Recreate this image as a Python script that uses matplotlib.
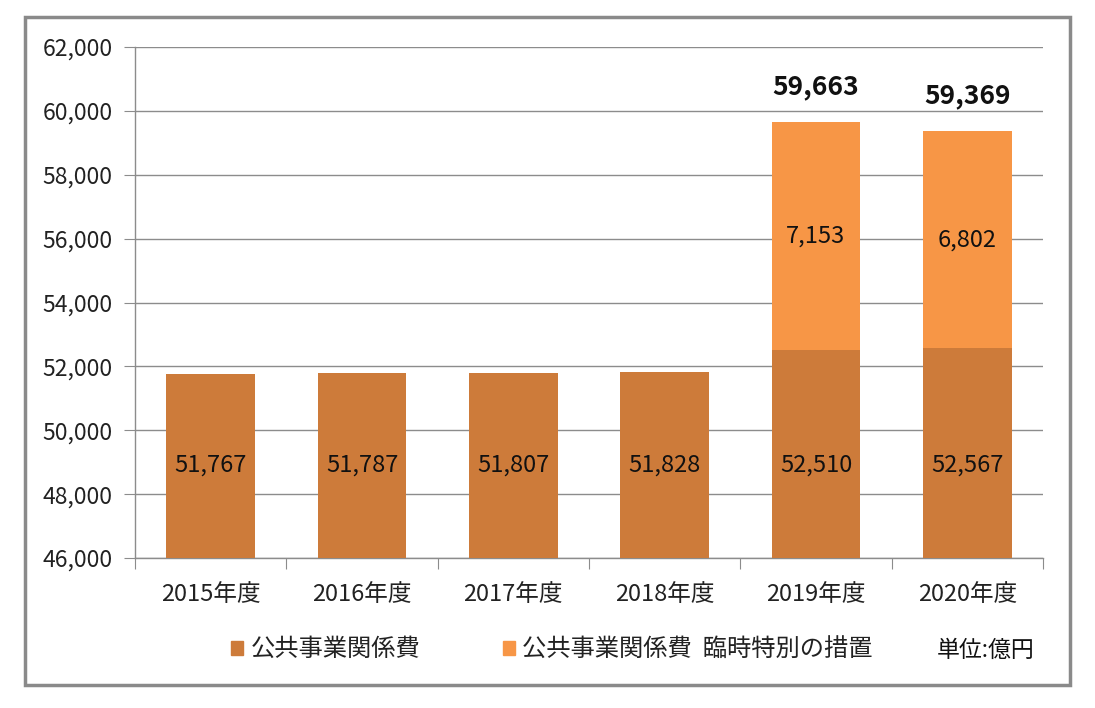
import matplotlib
matplotlib.use('Agg')
import matplotlib.pyplot as plt
from matplotlib.patches import Rectangle, Patch
from matplotlib.ticker import FuncFormatter, MultipleLocator

plt.rcParams['font.family'] = ['Noto Sans CJK JP', 'DejaVu Sans']

# データ
years = ['2015年度', '2016年度', '2017年度', '2018年度', '2019年度', '2020年度']
base = [51767, 51787, 51807, 51828, 52510, 52567]
special = [0, 0, 0, 0, 7153, 6802]
totals = [None, None, None, None, 59663, 59369]

c_base = '#CD7B3A'
c_special = '#F79646'
grid_c = '#8C8C8C'

fig = plt.figure(figsize=(10.95, 7.08), dpi=100)
ax = fig.add_axes([135 / 1095, 1 - 558 / 708, 908 / 1095, 511 / 708])

x = list(range(len(years)))
w = 0.585
ax.bar(x, base, width=w, color=c_base, zorder=3)
ax.bar(x, special, width=w, bottom=base, color=c_special, zorder=3)

ax.set_ylim(46000, 62000)
ax.set_xlim(-0.5, len(years) - 0.5)
ax.yaxis.set_major_locator(MultipleLocator(2000))
ax.yaxis.set_major_formatter(FuncFormatter(lambda v, p: f'{int(v):,}'))
ax.grid(axis='y', color=grid_c, linewidth=1, zorder=0)

# x軸の目盛りはカテゴリの境界に
ax.set_xticks([i - 0.5 for i in range(len(years) + 1)])
ax.set_xticklabels([])
ax.set_xticks(x, minor=True)
ax.set_xticklabels(years, minor=True, fontsize=17, color='#222222')
ax.tick_params(axis='x', which='minor', length=0, pad=18)
ax.tick_params(axis='x', which='major', length=8, color=grid_c, direction='out')
ax.tick_params(axis='y', length=8, color=grid_c, labelsize=16.5, labelcolor='#222222', pad=8)

for s in ['top', 'right']:
    ax.spines[s].set_visible(False)
for s in ['left', 'bottom']:
    ax.spines[s].set_color(grid_c)
    ax.spines[s].set_linewidth(1)

# 数値ラベル
for i in x:
    ax.text(i, 48900, f'{base[i]:,}', ha='center', va='center', fontsize=17, color='#111111', zorder=4)
    if special[i]:
        ax.text(i, base[i] + special[i] / 2, f'{special[i]:,}', ha='center', va='center',
                fontsize=17, color='#111111', zorder=4)
    if totals[i]:
        ax.text(i, totals[i] + 1100, f'{totals[i]:,}', ha='center', va='center', fontsize=19,
                fontweight='bold', color='#111111', zorder=4)

# 凡例
handles = [Patch(color=c_base, label='公共事業関係費'),
           Patch(color=c_special, label='公共事業関係費  臨時特別の措置')]
fig.legend(handles=handles, loc='center', bbox_to_anchor=(0.504, 0.083), ncol=2, frameon=False,
           fontsize=17.5, handlelength=0.5, handleheight=0.5, handletextpad=0.3, columnspacing=3.4,
           labelcolor='#222222')
fig.text(986 / 1095, 1 - 650 / 708, '単位:億円', ha='center', va='center', fontsize=16.5, color='#111111')

# 外枠
fig.patches.append(Rectangle((25 / 1095, 1 - 685 / 708), 1045 / 1095, 668 / 708,
                             transform=fig.transFigure, fill=False, edgecolor='#8A8A8A', linewidth=2.5))

fig.savefig('out.png', dpi=100, facecolor='white')
